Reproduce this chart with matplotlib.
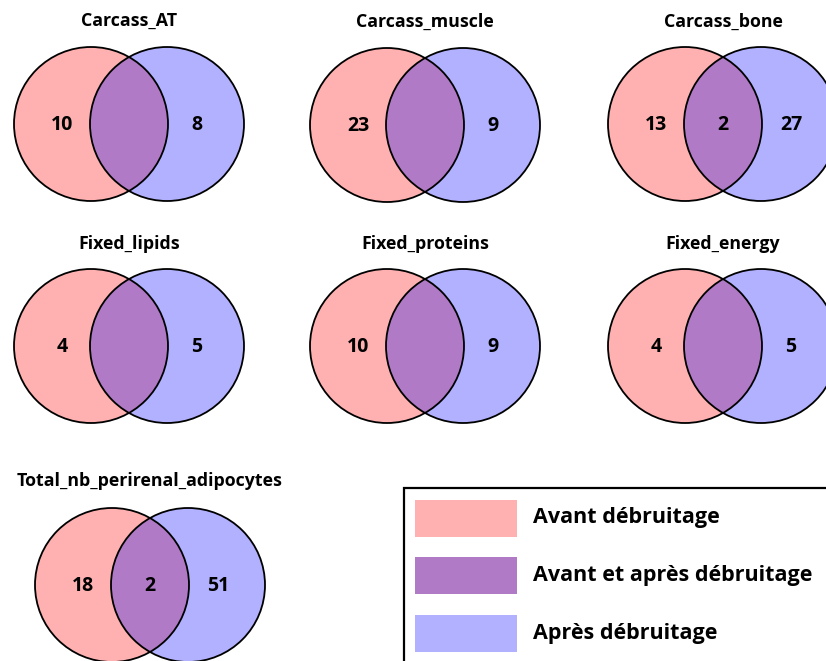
import matplotlib
matplotlib.use("Agg")
import matplotlib.pyplot as plt
from matplotlib.patches import Circle, Rectangle

plt.rcParams["font.family"] = ["Open Sans", "DejaVu Sans"]
plt.rcParams["font.weight"] = "bold"

# Venn data: counts only-before / both / only-after
titles = [
    "Carcass_AT", "Carcass_muscle", "Carcass_bone",
    "Fixed_lipids", "Fixed_proteins", "Fixed_energy",
    "Total_nb_perirenal_adipocytes",
]
only_before = [10, 23, 13, 4, 10, 4, 18]
both = [0, 0, 2, 0, 0, 0, 2]
only_after = [8, 9, 27, 5, 9, 5, 51]

legend_labels = ["Avant débruitage", "Avant et après débruitage", "Après débruitage"]

PINK = "#FFB0B0"
PURPLE = "#B07AC6"
BLUE = "#B1B1FF"

# layout (pixel space): left circle centre, shared radius and spacing
left_cx = [91, 387, 685, 91, 387, 685, 112]
centre_cy = [124, 125, 124, 346, 346, 346, 585]
title_y = [21, 22, 22, 244, 244, 244, 481]
R = 77
D = 76

fig = plt.figure(figsize=(8.26, 6.61), dpi=100)
ax = fig.add_axes([0, 0, 1, 1])
ax.set_xlim(0, 826)
ax.set_ylim(661, 0)
ax.set_aspect("equal")
ax.axis("off")

for i, title in enumerate(titles):
    x1 = left_cx[i]
    x2 = x1 + D
    cy = centre_cy[i]

    ax.add_patch(Circle((x1, cy), R, facecolor=PINK, edgecolor="none", zorder=1))
    ax.add_patch(Circle((x2, cy), R, facecolor=BLUE, edgecolor="none", zorder=1))

    # overlap: right circle filled purple, clipped by the left one
    lens = Circle((x2, cy), R, facecolor=PURPLE, edgecolor="none", zorder=2)
    ax.add_patch(lens)
    lens.set_clip_path(Circle((x1, cy), R, transform=ax.transData))

    for cx in (x1, x2):
        ax.add_patch(Circle((cx, cy), R, facecolor="none", edgecolor="black",
                            linewidth=1.3, zorder=3))

    ax.text((x1 + x2) / 2, title_y[i], title, ha="center", va="center",
            fontsize=12.8, fontweight="bold", color="black")

    ax.text(x1 - 29, cy + 1, str(only_before[i]), ha="center", va="center",
            fontsize=14, fontweight="bold", zorder=4)
    ax.text(x2 + 30, cy + 1, str(only_after[i]), ha="center", va="center",
            fontsize=14, fontweight="bold", zorder=4)
    if both[i]:
        ax.text((x1 + x2) / 2, cy + 1, str(both[i]), ha="center", va="center",
                fontsize=14, fontweight="bold", zorder=4)

# Legend box (runs off the right/bottom edge like the original)
ax.add_patch(Rectangle((404, 488), 450, 200, facecolor="white",
                       edgecolor="black", linewidth=1.6, zorder=5))
legend_colors = [PINK, PURPLE, BLUE]
legend_y = [518, 575, 633]
for label, color, ly in zip(legend_labels, legend_colors, legend_y):
    ax.add_patch(Rectangle((415, ly - 18.5), 102, 37, facecolor=color,
                           edgecolor="none", zorder=6))
    ax.text(533, ly, label, ha="left", va="center", fontsize=15.5,
            fontweight="bold", zorder=6)

fig.savefig("out.png", dpi=100)
